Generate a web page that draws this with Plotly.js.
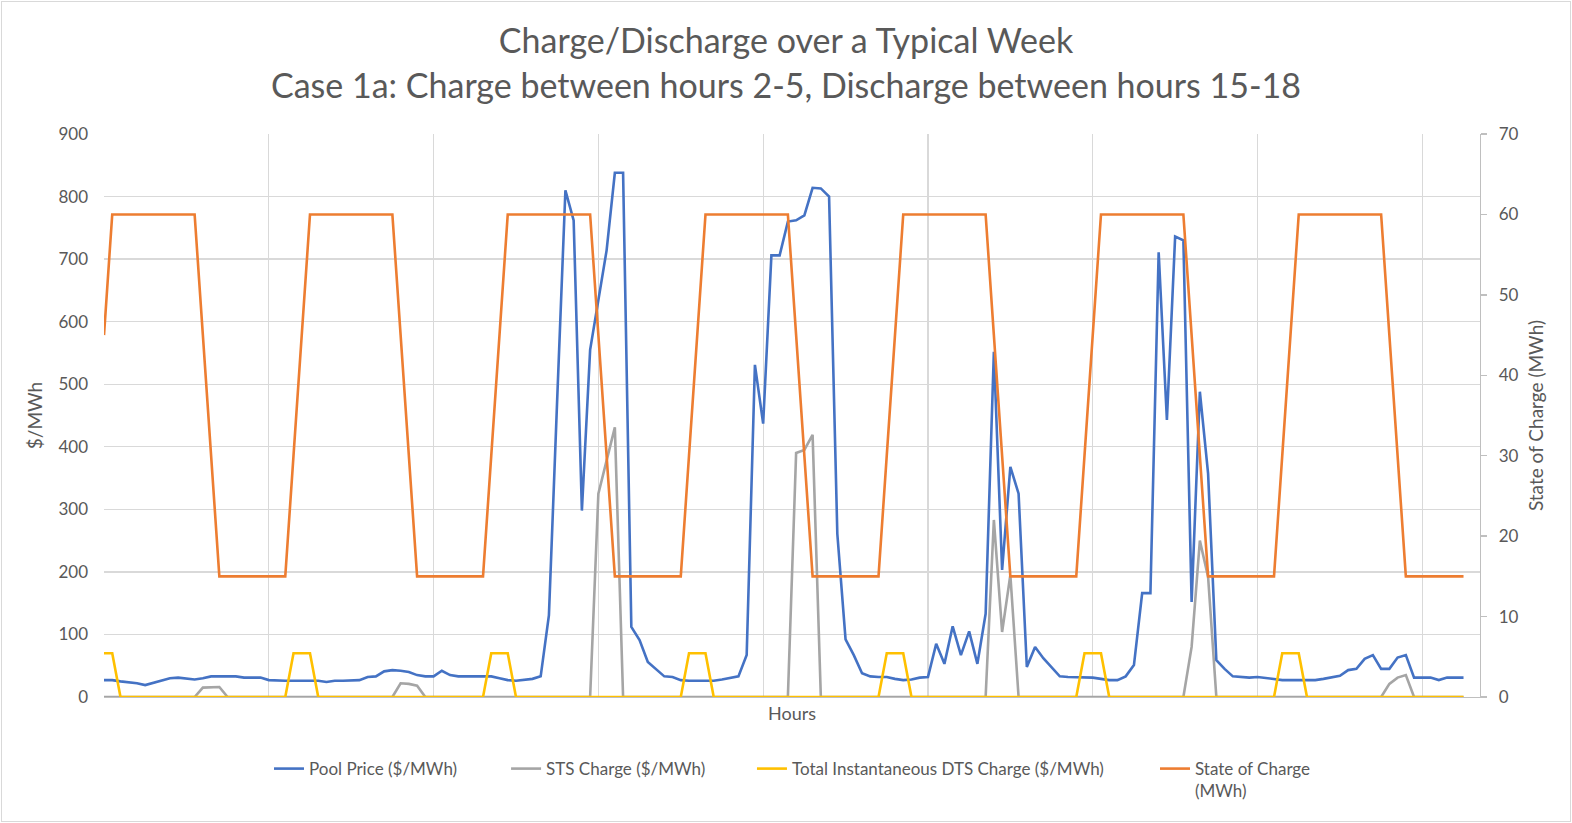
<!DOCTYPE html>
<html>
<head>
<meta charset="utf-8">
<script src="https://cdn.plot.ly/plotly-3.0.1.min.js"></script>
<style>
  html, body { margin: 0; padding: 0; background: #ffffff; }
  #chart { width: 1572px; height: 823px; }
  #frame { position: absolute; left: 1px; top: 1px; width: 1568px; height: 819px; border: 1px solid #d9d9d9; pointer-events: none; }
</style>
</head>
<body>
<div id="chart"></div>
<div id="frame"></div>
<script>
// Hourly values over the week (hours 0..165)
const poolPrice = [
  27, 27, 25, 24, 22, 19, 23, 27, 30, 31, 29, 28, 30, 33, 33, 33, 33, 31, 31, 31, 27, 26, 26, 26,
  26, 26, 26, 24, 26, 26, 26, 27, 32, 33, 41, 43, 42, 40, 35, 33, 33, 42, 35, 33, 33, 33, 33, 33,
  30, 27, 26, 27, 29, 33, 131, 475, 810, 762, 298, 555, 632, 714, 838, 838, 112, 91, 56, 45, 33, 32,
  27, 26, 26, 26, 26, 28, 31, 33, 67, 531, 437, 706, 706, 760, 762, 770, 814, 813, 800, 261, 92, 67,
  38, 33, 32, 32, 29, 27, 28, 31, 32, 85, 53, 113, 67, 105, 53, 133, 552, 203, 368, 325, 48, 80,
  62, 48, 33, 32, 32, 31, 31, 29, 27, 27, 33, 51, 166, 166, 711, 443, 736, 730, 152, 488, 357, 59,
  45, 33, 32, 31, 32, 30, 28, 27, 27, 27, 27, 27, 29, 31, 34, 43, 45, 61, 67, 45, 45, 63,
  67, 31, 31, 31, 27, 31, 31, 31
];
const stsCharge = [
  0, 0, 0, 0, 0, 0, 0, 0, 0, 0, 0, 0, 15, 16, 16, 0, 0, 0, 0, 0, 0, 0, 0, 0,
  0, 0, 0, 0, 0, 0, 0, 0, 0, 0, 0, 0, 22, 21, 18, 0, 0, 0, 0, 0, 0, 0, 0, 0,
  0, 0, 0, 0, 0, 0, 0, 0, 0, 0, 0, 0, 325, 378, 431, 0, 0, 0, 0, 0, 0, 0, 0, 0,
  0, 0, 0, 0, 0, 0, 0, 0, 0, 0, 0, 0, 390, 395, 419, 0, 0, 0, 0, 0, 0, 0, 0, 0,
  0, 0, 0, 0, 0, 0, 0, 0, 0, 0, 0, 0, 283, 104, 195, 0, 0, 0, 0, 0, 0, 0, 0, 0,
  0, 0, 0, 0, 0, 0, 0, 0, 0, 0, 0, 0, 80, 250, 192, 0, 0, 0, 0, 0, 0, 0, 0, 0,
  0, 0, 0, 0, 0, 0, 0, 0, 0, 0, 0, 0, 21, 31, 35, 0, 0, 0, 0, 0, 0, 0
];
const dtsCharge = [
  70, 70, 0, 0, 0, 0, 0, 0, 0, 0, 0, 0, 0, 0, 0, 0, 0, 0, 0, 0, 0, 0, 0, 70,
  70, 70, 0, 0, 0, 0, 0, 0, 0, 0, 0, 0, 0, 0, 0, 0, 0, 0, 0, 0, 0, 0, 0, 70,
  70, 70, 0, 0, 0, 0, 0, 0, 0, 0, 0, 0, 0, 0, 0, 0, 0, 0, 0, 0, 0, 0, 0, 70,
  70, 70, 0, 0, 0, 0, 0, 0, 0, 0, 0, 0, 0, 0, 0, 0, 0, 0, 0, 0, 0, 0, 0, 70,
  70, 70, 0, 0, 0, 0, 0, 0, 0, 0, 0, 0, 0, 0, 0, 0, 0, 0, 0, 0, 0, 0, 0, 70,
  70, 70, 0, 0, 0, 0, 0, 0, 0, 0, 0, 0, 0, 0, 0, 0, 0, 0, 0, 0, 0, 0, 0, 70,
  70, 70, 0, 0, 0, 0, 0, 0, 0, 0, 0, 0, 0, 0, 0, 0, 0, 0, 0, 0, 0, 0
];
const stateOfCharge = [
  45, 60, 60, 60, 60, 60, 60, 60, 60, 60, 60, 60, 45, 30, 15, 15, 15, 15, 15, 15, 15, 15, 15, 30,
  45, 60, 60, 60, 60, 60, 60, 60, 60, 60, 60, 60, 45, 30, 15, 15, 15, 15, 15, 15, 15, 15, 15, 30,
  45, 60, 60, 60, 60, 60, 60, 60, 60, 60, 60, 60, 45, 30, 15, 15, 15, 15, 15, 15, 15, 15, 15, 30,
  45, 60, 60, 60, 60, 60, 60, 60, 60, 60, 60, 60, 45, 30, 15, 15, 15, 15, 15, 15, 15, 15, 15, 30,
  45, 60, 60, 60, 60, 60, 60, 60, 60, 60, 60, 60, 45, 30, 15, 15, 15, 15, 15, 15, 15, 15, 15, 30,
  45, 60, 60, 60, 60, 60, 60, 60, 60, 60, 60, 60, 45, 30, 15, 15, 15, 15, 15, 15, 15, 15, 15, 30,
  45, 60, 60, 60, 60, 60, 60, 60, 60, 60, 60, 60, 45, 30, 15, 15, 15, 15, 15, 15, 15, 15
];
const seriesNames = ["Pool Price ($/MWh)", "STS Charge ($/MWh)", "Total Instantaneous DTS Charge ($/MWh)", "State of Charge<br>(MWh)"];
const titleLines = ["Charge/Discharge over a Typical Week", "Case 1a: Charge between hours 2-5, Discharge between hours 15-18"];

const FONT = "Lato, 'Open Sans', sans-serif";
const TXT = "#595959";

const traces = [
  { y: poolPrice, name: seriesNames[0], type: "scatter", mode: "lines", legend: "legend", line: { color: "#4472C4", width: 2.6 } },
  { y: stsCharge, name: seriesNames[1], type: "scatter", mode: "lines", legend: "legend2", line: { color: "#A5A5A5", width: 2.6 } },
  { y: dtsCharge, name: seriesNames[2], type: "scatter", mode: "lines", legend: "legend3", line: { color: "#FFC000", width: 2.6 } },
  { y: stateOfCharge, name: seriesNames[3], type: "scatter", mode: "lines", legend: "legend4", yaxis: "y2", line: { color: "#ED7D31", width: 2.6 } }
];

function legendAt(xPaper) {
  return {
    orientation: "h", x: xPaper, xanchor: "left",
    y: -0.096, yanchor: "top", valign: "top",
    bgcolor: "rgba(0,0,0,0)", borderwidth: 0,
    font: { family: FONT, size: 17, color: TXT }
  };
}

const layout = {
  width: 1572, height: 823, autosize: false,
  margin: { l: 104, r: 92, t: 134, b: 126, autoexpand: false },
  paper_bgcolor: "#ffffff", plot_bgcolor: "#ffffff",
  font: { family: FONT, color: TXT, size: 16 },
  showlegend: true,
  title: {
    text: titleLines.join("<br>"),
    font: { family: FONT, size: 34, color: TXT },
    x: 0.5, xanchor: "center", xref: "container",
    y: 0.935, yanchor: "top", yref: "container"
  },
  xaxis: {
    range: [0, 167], tick0: 0, dtick: 20, showticklabels: false, ticks: "",
    showgrid: true, gridcolor: "#D9D9D9", gridwidth: 1.3, zeroline: false,
    showline: true, linecolor: "#BFBFBF", linewidth: 1.3,
    title: { text: "Hours", font: { family: FONT, size: 18, color: TXT }, standoff: 10 }
  },
  yaxis: {
    range: [0, 900], tick0: 0, dtick: 100, ticks: "", ticklabelstandoff: 15,
    tickfont: { family: FONT, size: 17, color: TXT },
    showgrid: true, gridcolor: "#D9D9D9", gridwidth: 1.3, zeroline: false, showline: false,
    title: { text: "$/MWh", font: { family: FONT, size: 19, color: TXT }, standoff: 10 }
  },
  yaxis2: {
    range: [0, 70], tick0: 0, dtick: 10, overlaying: "y", side: "right",
    showgrid: false, zeroline: false, showline: true, linecolor: "#BFBFBF", linewidth: 1.3,
    ticks: "outside", ticklen: 6, tickcolor: "#BFBFBF", tickwidth: 1.3, ticklabelstandoff: 8,
    tickfont: { family: FONT, size: 17, color: TXT },
    title: { text: "State of Charge (MWh)", font: { family: FONT, size: 19, color: TXT }, standoff: 12 }
  },
  legend: legendAt(0.1199),
  legend2: legendAt(0.2922),
  legend3: legendAt(0.4709),
  legend4: legendAt(0.7638)
};

Plotly.newPlot("chart", traces, layout, { displayModeBar: false, staticPlot: true });
</script>
</body>
</html>
